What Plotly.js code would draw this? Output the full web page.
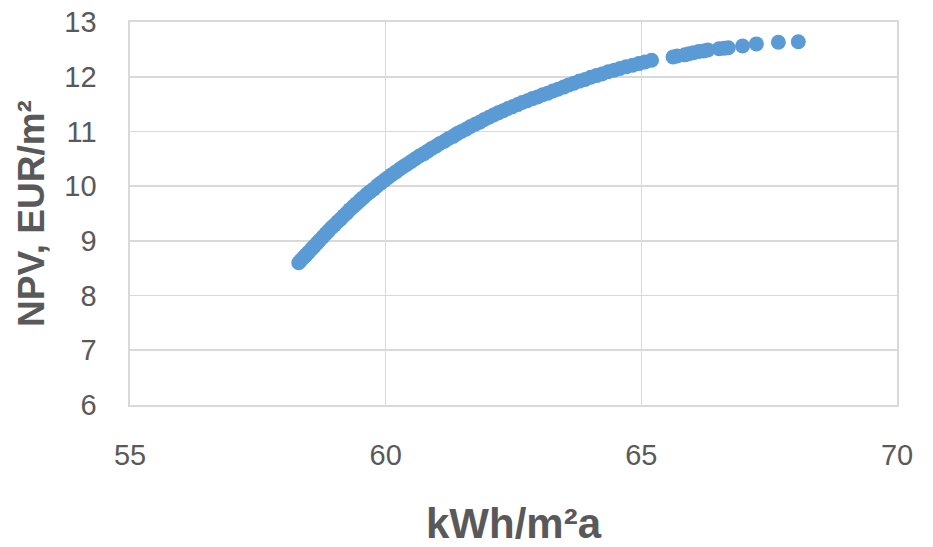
<!DOCTYPE html>
<html>
<head>
<meta charset="utf-8">
<script src="https://cdn.plot.ly/plotly-3.0.1.min.js"></script>
<style>html,body{margin:0;padding:0;background:#fff;}#chart{width:933px;height:547px;}</style>
</head>
<body>
<div id="chart"></div>
<script>
// Energy demand (kWh/m²a) of each solution
const energyDemand = [
  58.30, 58.34, 58.39, 58.44, 58.49, 58.55, 58.60, 58.66, 58.71, 58.77,
  58.83, 58.88, 58.94, 59.00, 59.06, 59.12, 59.18, 59.24, 59.30, 59.37,
  59.43, 59.50, 59.56, 59.63, 59.70, 59.77, 59.84, 59.91, 59.98, 60.05,
  60.12, 60.20, 60.27, 60.35, 60.42, 60.50, 60.58, 60.66, 60.74, 60.82,
  60.90, 60.98, 61.06, 61.15, 61.23, 61.32, 61.40, 61.48, 61.57, 61.66,
  61.75, 61.84, 61.93, 62.02, 62.11, 62.20, 62.30, 62.39, 62.48, 62.58,
  62.67, 62.77, 62.87, 62.97, 63.07, 63.17, 63.27, 63.37, 63.48, 63.58,
  63.68, 63.79, 63.90, 64.01, 64.12, 64.23, 64.35, 64.47, 64.58, 64.70,
  64.83, 64.95, 65.07, 65.20, 65.62, 65.70, 65.85, 65.93, 66.02, 66.12,
  66.22, 66.30, 66.52, 66.62, 66.70, 66.98, 67.25, 67.68, 68.07
];
// Net present value (EUR/m²) of each solution
const npv = [
  8.60, 8.64, 8.69, 8.74, 8.79, 8.85, 8.90, 8.96, 9.01, 9.07,
  9.13, 9.18, 9.24, 9.29, 9.35, 9.40, 9.46, 9.51, 9.57, 9.63,
  9.68, 9.74, 9.79, 9.85, 9.90, 9.95, 10.01, 10.06, 10.11, 10.16,
  10.21, 10.26, 10.31, 10.36, 10.40, 10.45, 10.50, 10.55, 10.59, 10.64,
  10.69, 10.73, 10.78, 10.82, 10.87, 10.91, 10.96, 11.00, 11.04, 11.09,
  11.13, 11.17, 11.22, 11.26, 11.30, 11.34, 11.38, 11.42, 11.45, 11.49,
  11.53, 11.56, 11.60, 11.63, 11.67, 11.70, 11.74, 11.77, 11.81, 11.85,
  11.88, 11.92, 11.95, 11.99, 12.02, 12.05, 12.09, 12.12, 12.15, 12.18,
  12.21, 12.24, 12.27, 12.30, 12.36, 12.38, 12.40, 12.42, 12.44, 12.46,
  12.47, 12.49, 12.51, 12.52, 12.53, 12.56, 12.60, 12.63, 12.64
];
const xTicks = [55, 60, 65, 70];
const yTicks = [6, 7, 8, 9, 10, 11, 12, 13];
const xTitle = 'kWh/m²a';
const yTitle = 'NPV, EUR/m²';

const textColor = '#595959';
const gridColor = '#D9D9D9';
const fontFam = 'Liberation Sans, Arial, sans-serif';

const trace = {
  x: energyDemand,
  y: npv,
  type: 'scatter',
  mode: 'markers',
  marker: {color: '#5B9BD5', size: 15, line: {width: 0}},
  hoverinfo: 'x+y'
};

const layout = {
  width: 933,
  height: 547,
  margin: {l: 130, r: 36, t: 22, b: 142},
  paper_bgcolor: '#ffffff',
  plot_bgcolor: '#ffffff',
  showlegend: false,
  font: {family: fontFam, color: textColor},
  xaxis: {
    range: [55, 70],
    tickvals: xTicks,
    ticktext: xTicks.map(String),
    showgrid: true,
    gridcolor: gridColor,
    gridwidth: 1.6,
    zeroline: false,
    showline: true,
    linecolor: gridColor,
    linewidth: 1.6,
    mirror: true,
    ticks: '',
    ticklabelstandoff: 24,
    tickfont: {family: fontFam, size: 29, color: textColor},
    title: {text: xTitle, standoff: 40, font: {family: fontFam, size: 42, color: textColor, weight: 'bold'}}
  },
  yaxis: {
    range: [6, 13],
    tickvals: yTicks,
    ticktext: yTicks.map(String),
    showgrid: true,
    gridcolor: gridColor,
    gridwidth: 1.6,
    zeroline: false,
    showline: true,
    linecolor: gridColor,
    linewidth: 1.6,
    mirror: true,
    ticks: '',
    ticklabelstandoff: 26,
    tickfont: {family: fontFam, size: 29, color: textColor},
    title: {text: yTitle, standoff: 8, font: {family: fontFam, size: 37, color: textColor, weight: 'bold'}}
  }
};

Plotly.newPlot('chart', [trace], layout, {displayModeBar: false, staticPlot: true});
</script>
</body>
</html>
